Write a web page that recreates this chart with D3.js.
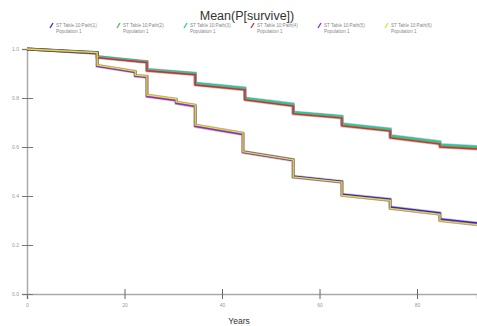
<!DOCTYPE html>
<html>
<head>
<meta charset="utf-8">
<script src="https://cdn.jsdelivr.net/npm/d3@7"></script>
<style>
  body { margin: 0; background: #fff; }
  svg { display: block; font-family: Arial, "Liberation Sans", sans-serif; }
</style>
</head>
<body>
<div id="chart"></div>
<script>
const title = 'Mean(P[survive])'
const xTicks = [0, 20, 40, 60, 80]
const yTicks = [0, 0.2, 0.4, 0.6, 0.8, 1.0]

// step times (years) for the two groups of curves
const upperTimes = [0, 14.4, 14.4, 24.6, 24.6, 34.5, 34.5, 44.7, 44.7, 54.6, 54.6, 64.6, 64.6, 74.5, 74.5, 84.7, 84.7, 92.3]
const lowerTimes = [0, 14.4, 14.4, 22.2, 22.2, 24.6, 24.6, 30.6, 30.6, 34.5, 34.5, 44.3, 44.3, 54.6, 54.6, 64.6, 64.6, 74.5, 74.5, 84.7, 84.7, 92.3]

const seriesNames = ['ST Table 10:Path(1)', 'ST Table 10:Path(2)', 'ST Table 10:Path(3)', 'ST Table 10:Path(4)', 'ST Table 10:Path(5)', 'ST Table 10:Path(6)']
const seriesColors = ['#2a2ad0', '#3fc24a', '#22c9b0', '#e02828', '#9b22d6', '#e6dc2a']
const seriesGroup = ['lower', 'upper', 'upper', 'upper', 'lower', 'lower']

const path1 = [1.0, .984, .932, .907, .891, .887, .810, .794, .782, .769, .688, .655, .582, .549, .481, .460, .407, .387, .355, .331, .306, .290]
const path2 = [1.0, .985, .968, .948, .915, .899, .858, .838, .797, .772, .740, .723, .691, .670, .643, .618, .606, .598]
const path3 = [1.0, .986, .969, .949, .917, .901, .861, .841, .800, .776, .743, .726, .695, .674, .647, .622, .610, .602]
const path4 = [1.0, .983, .965, .945, .911, .895, .853, .833, .792, .767, .735, .718, .686, .665, .637, .612, .600, .592]
const path5 = [1.0, .983, .930, .905, .889, .885, .806, .790, .778, .765, .684, .651, .578, .545, .477, .456, .403, .383, .350, .326, .301, .285]
const path6 = [1.0, .985, .934, .909, .893, .889, .812, .796, .784, .771, .690, .657, .581, .548, .478, .457, .402, .382, .349, .325, .299, .283]
const seriesValues = [path1, path2, path3, path4, path5, path6]

const width = 477
const height = 326
const margin = { top: 49, right: 0, bottom: 32, left: 27 }

const svg = d3.select('#chart')
  .append('svg')
  .attr('width', width)
  .attr('height', height)

const x = d3.scaleLinear().domain([0, 92.3]).range([margin.left, width - margin.right])
const y = d3.scaleLinear().domain([0, 1]).range([height - margin.bottom, margin.top])

// Title
svg.append('text')
  .attr('x', 247)
  .attr('y', 20)
  .attr('text-anchor', 'middle')
  .attr('font-size', '12.5px')
  .attr('fill', '#333')
  .text(title)

// Legend
const legend = svg.append('g')
  .selectAll('g')
  .data(seriesNames)
  .join('g')
  .attr('transform', (d, i) => `translate(${50 + i * 67},22)`)

legend.append('line')
  .attr('x1', 0).attr('y1', 6)
  .attr('x2', 3).attr('y2', 1)
  .attr('stroke', (d, i) => seriesColors[i])
  .attr('stroke-width', 1.3)

legend.append('text')
  .attr('x', 6).attr('y', 5)
  .attr('font-size', '4.6px')
  .attr('fill', '#888')
  .text(d => d)

legend.append('text')
  .attr('x', 6).attr('y', 11)
  .attr('font-size', '4.6px')
  .attr('fill', '#888')
  .text('Population 1')

// Axes
const xAxis = svg.append('g')
  .attr('transform', `translate(0,${y(0)})`)
  .call(d3.axisBottom(x).tickValues(xTicks).tickSize(5).tickFormat(d3.format('d')))
xAxis.select('.domain').attr('stroke', '#aaa').attr('stroke-width', 1.5)
xAxis.selectAll('.tick line').attr('stroke', '#666').attr('y1', -5)
xAxis.selectAll('.tick text').attr('fill', '#999').attr('font-size', '5px').attr('dy', '0.9em')

const yAxis = svg.append('g')
  .attr('transform', `translate(${x(0)},0)`)
  .call(d3.axisLeft(y).tickValues(yTicks).tickSize(5).tickFormat(d3.format('.1f')))
yAxis.select('.domain').attr('stroke', '#aaa').attr('stroke-width', 1.5)
yAxis.selectAll('.tick line').attr('stroke', '#777').attr('x1', 6)
yAxis.selectAll('.tick text').attr('fill', '#999').attr('font-size', '5px').attr('x', -8)

svg.append('text')
  .attr('x', 239)
  .attr('y', 324)
  .attr('text-anchor', 'middle')
  .attr('font-size', '8.5px')
  .attr('fill', '#333')
  .text('Years')

// Lines
const line = d3.line()
  .x(d => x(d[0]))
  .y(d => y(d[1]))

const series = seriesValues.map((vals, i) => {
  const times = seriesGroup[i] === 'upper' ? upperTimes : lowerTimes
  return { color: seriesColors[i], points: vals.map((v, j) => [times[j], v]) }
})

const lines = svg.append('g')

// dark halo under the curves
lines.selectAll('path.halo')
  .data(series)
  .join('path')
  .attr('class', 'halo')
  .attr('d', d => line(d.points))
  .attr('fill', 'none')
  .attr('stroke', '#444')
  .attr('stroke-opacity', 0.35)
  .attr('stroke-width', 3)

lines.selectAll('path.curve')
  .data(series)
  .join('path')
  .attr('class', 'curve')
  .attr('d', d => line(d.points))
  .attr('fill', 'none')
  .attr('stroke', d => d.color)
  .attr('stroke-width', 1.4)
</script>
</body>
</html>
